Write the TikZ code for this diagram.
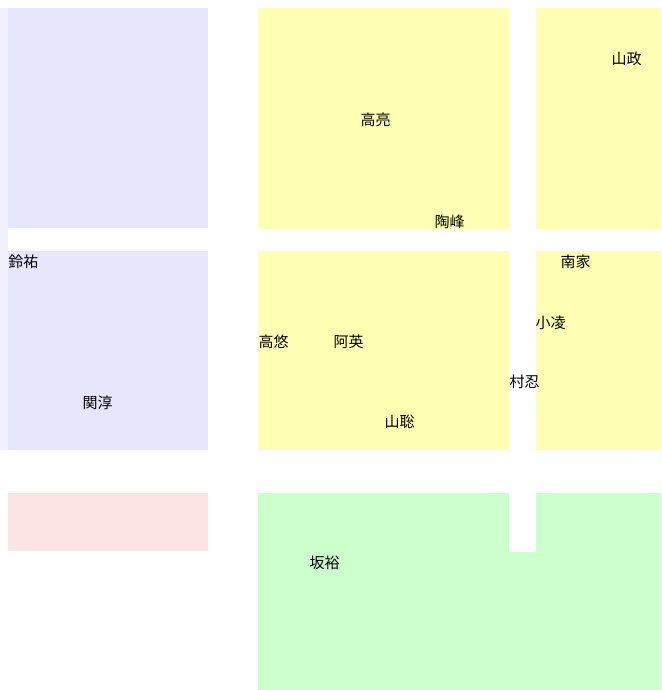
\documentclass[tikz,border=0pt]{standalone}
\usepackage{fontspec}
\newfontfamily\cjk{Noto Sans CJK JP}
\definecolor{blueroom}{HTML}{E6E6FC}
\definecolor{bluestrip}{HTML}{F1F1FD}
\definecolor{yellowroom}{HTML}{FFFFB4}
\definecolor{greenroom}{HTML}{CCFFCC}
\definecolor{pinkroom}{HTML}{FDE4E4}
\begin{document}
\begin{tikzpicture}[x=1pt,y=-1pt,
  lbl/.style={font=\cjk\fontsize{15}{17}\selectfont, inner sep=0pt, text=black}]
\useasboundingbox (0,0) rectangle (661,690);
\fill[white] (0,0) rectangle (661,690);
% rooms
\fill[bluestrip] (0,8) rectangle (8,450);
\fill[blueroom] (8,8) rectangle (208,228);
\fill[blueroom] (8,251) rectangle (208,450);
\fill[pinkroom] (8,493) rectangle (208,551);
\fill[yellowroom] (258,8) rectangle (509,229);
\fill[yellowroom] (536,8) rectangle (661,229);
\fill[yellowroom] (258,251) rectangle (509,450);
\fill[yellowroom] (536,251) rectangle (661,450);
\fill[greenroom] (258,493) -- (509,493) -- (509,552) -- (536,552) -- (536,493)
  -- (661,493) -- (661,690) -- (258,690) -- cycle;
% labels
\node[lbl] (gaoliang) at (375.5,120) {高亮};
\node[lbl] (taofeng) at (449.5,222) {陶峰};
\node[lbl] (shanzheng) at (626.5,59) {山政};
\node[lbl] (lingyou) at (23.5,262) {鈴祐};
\node[lbl] (guanchun) at (97.5,403) {関淳};
\node[lbl] (nanjia) at (575.5,262) {南家};
\node[lbl] (xiaoling) at (550.5,323) {小凌};
\node[lbl] (gaoyou) at (273.5,342) {高悠};
\node[lbl] (aying) at (348.5,342) {阿英};
\node[lbl] (cunren) at (524.5,382) {村忍};
\node[lbl] (shancong) at (399.5,422) {山聡};
\node[lbl] (banyu) at (324.5,563) {坂裕};
\end{tikzpicture}
\end{document}
